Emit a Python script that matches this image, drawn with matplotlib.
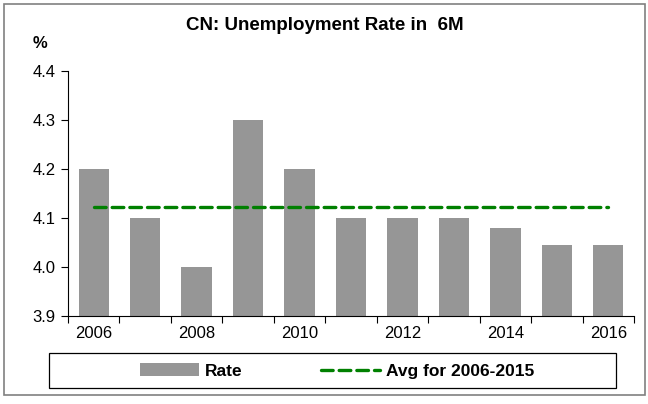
import matplotlib
matplotlib.use("Agg")
import matplotlib.pyplot as plt
import matplotlib.patches as patches
import numpy as np

plt.rcParams['font.family'] = ['Liberation Sans', 'DejaVu Sans']

# 数据
years = [2006, 2007, 2008, 2009, 2010, 2011, 2012, 2013, 2014, 2015, 2016]
rate = [4.2, 4.1, 4.0, 4.3, 4.2, 4.1, 4.1, 4.1, 4.08, 4.045, 4.045]
avg_years = (2006, 2015)
avg_value = np.mean(rate[:10])
y_ticks = [3.9, 4.0, 4.1, 4.2, 4.3, 4.4]
title = "CN: Unemployment Rate in  6M"

BAR_COLOR = '#969696'
LINE_COLOR = '#008000'

fig = plt.figure(figsize=(6.48, 4.04), dpi=100)
ax = fig.add_axes([68/648, 1 - 316/404, 566/648, 245/404])

x = np.arange(len(years))
bars = ax.bar(x, rate, width=0.59, color=BAR_COLOR, label='Rate', zorder=2)
line, = ax.plot(x, [avg_value] * len(x), color=LINE_COLOR, lw=2.4, ls=(0, (3.5, 1.8)),
                dash_capstyle='round', label='Avg for %d-%d' % avg_years, zorder=3)

ax.set_xlim(-0.5, len(years) - 0.5)
ax.set_ylim(3.9, 4.4)
ax.set_yticks(y_ticks)
ax.set_yticklabels(['%.1f' % v for v in y_ticks], fontsize=12)

# x 轴：刻度在类别之间，标签每两年一个
ax.set_xticks(np.arange(-0.5, len(years), 1.0))
ax.set_xticklabels([])
ax.set_xticks(x[::2], minor=True)
ax.set_xticklabels([str(y) for y in years[::2]], minor=True, fontsize=12)
ax.tick_params(axis='x', which='minor', length=0, pad=7)
ax.tick_params(axis='x', which='major', length=5, direction='out', width=0.8)
ax.tick_params(axis='y', length=5, direction='out', width=0.8, pad=4)

for s in ['top', 'right']:
    ax.spines[s].set_visible(False)
for s in ['left', 'bottom']:
    ax.spines[s].set_linewidth(0.8)

fig.text(325/648, 1 - 26/404, title, ha='center', va='center',
         fontsize=13.5, fontweight='bold')
fig.text(40/648, 1 - 43/404, '%', ha='center', va='center',
         fontsize=12, fontweight='bold')

# 图例外框
fig.patches.append(patches.Rectangle((49/648, 1 - 388/404), 567/648, 35/404,
                                     transform=fig.transFigure, fill=False,
                                     edgecolor='black', lw=0.9))
# 整个图的外框
fig.patches.append(patches.Rectangle((4/648, 1 - 395/404), 641/648, 391/404,
                                     transform=fig.transFigure, fill=False,
                                     edgecolor='#808080', lw=1.2))

leg = fig.legend([bars, line], [bars.get_label(), line.get_label()],
                 loc='center', ncol=2,
                 bbox_to_anchor=(337/648, 1 - 371/404), frameon=False,
                 prop={'weight': 'bold', 'size': 12.5}, handlelength=3.4,
                 handletextpad=0.35, columnspacing=4.5)

fig.savefig('out.png', dpi=100)
